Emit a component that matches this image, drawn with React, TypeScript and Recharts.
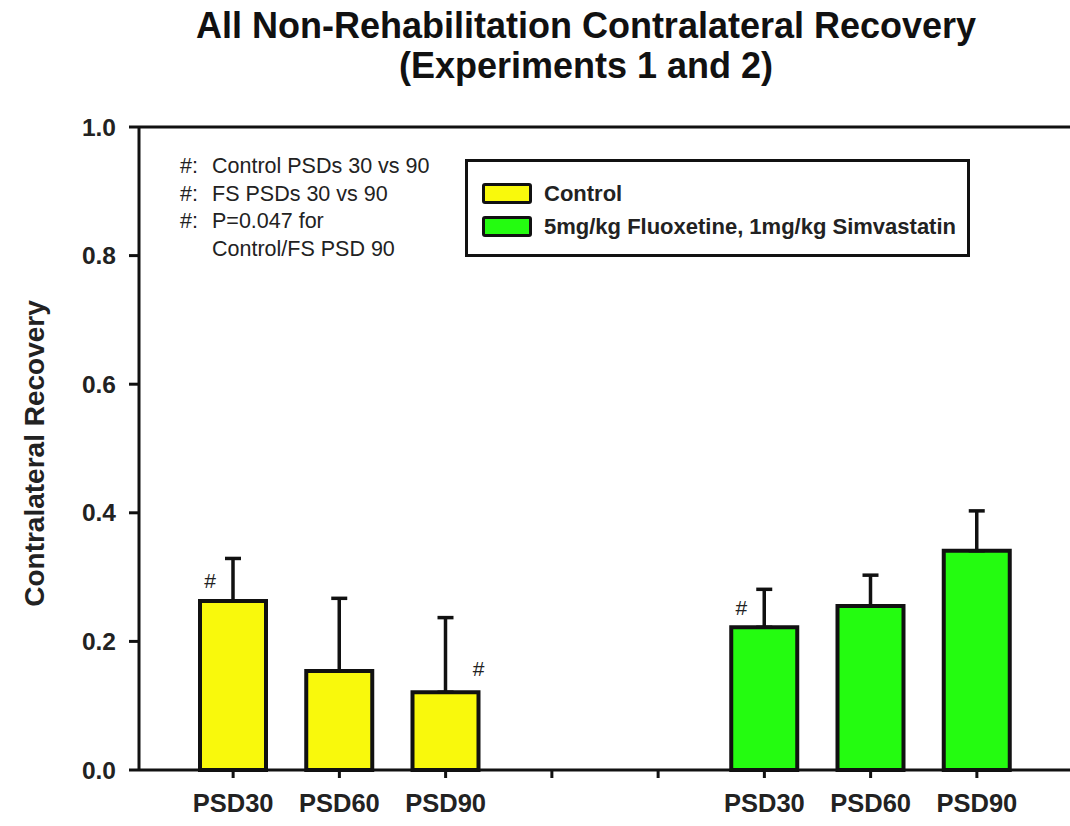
import React from "react";
import { BarChart, Bar, XAxis, YAxis, ErrorBar, Cell, LabelList, Legend, ReferenceLine } from "recharts";

const slotLabels = ["PSD30", "PSD60", "PSD90", "", "", "PSD30", "PSD60", "PSD90"];
const slotGroup = ["control", "control", "control", null, null, "fs", "fs", "fs"];
const controlValues = [0.263, 0.154, 0.121];
const controlErrors = [0.066, 0.113, 0.116];
const fsValues = [0.222, 0.255, 0.341];
const fsErrors = [0.059, 0.048, 0.062];
const marks = ["L", null, "R", null, null, "L", null, null];
const yTicks = [0, 0.2, 0.4, 0.6, 0.8, 1.0];
const seriesNames = ["Control", "5mg/kg Fluoxetine, 1mg/kg Simvastatin"];
const seriesColors = ["#f9f90c", "#24fc10"];
const notes = [
  ["#:", "Control PSDs 30 vs 90"],
  ["#:", "FS PSDs 30 vs 90"],
  ["#:", "P=0.047 for"],
  ["", "Control/FS PSD 90"],
];

const FONT = "'Liberation Sans', Arial, Helvetica, sans-serif";

let ci = 0;
let fi = 0;
const data = slotLabels.map((label, i) => {
  const g = slotGroup[i];
  let value: number | null = null;
  let err: number[] | null = null;
  if (g === "control") {
    value = controlValues[ci];
    err = [0, controlErrors[ci]];
    ci++;
  } else if (g === "fs") {
    value = fsValues[fi];
    err = [0, fsErrors[fi]];
    fi++;
  }
  return { slot: i, label, group: g, value, err, mark: marks[i] };
});

const MarkLabel = (props: any) => {
  const { x, y, width, value } = props;
  if (!value) return null;
  const cx = value === "L" ? x + 10 : x + width;
  const cy = value === "L" ? y - 20 : y - 24;
  return (
    <text x={cx} y={cy} textAnchor="middle" dominantBaseline="central" fontSize={21} fontFamily={FONT} fill="#222">
      #
    </text>
  );
};

const LegendBox = () => (
  <div
    style={{
      width: 505,
      height: 98,
      border: "3px solid #111",
      background: "#fff",
      boxSizing: "border-box",
      paddingLeft: 14,
      paddingTop: 15,
      fontFamily: FONT,
      fontWeight: "bold",
      fontSize: 22,
      color: "#222",
    }}
  >
    {seriesNames.map((n, i) => (
      <div key={n} style={{ display: "flex", alignItems: "center", height: 33 }}>
        <div
          style={{
            width: 50,
            height: 21,
            background: seriesColors[i],
            border: "3px solid #111",
            borderRadius: 3,
            boxSizing: "border-box",
            marginRight: 12,
          }}
        />
        <span>{n}</span>
      </div>
    ))}
  </div>
);

const YLabel = (props: any) => {
  const { viewBox } = props;
  const cx = viewBox.x + 34;
  const cy = viewBox.y + viewBox.height / 2 + 5;
  return (
    <text
      x={cx}
      y={cy}
      transform={`rotate(-90, ${cx}, ${cy})`}
      textAnchor="middle"
      dominantBaseline="central"
      fontSize={28}
      fontWeight="bold"
      fontFamily={FONT}
      fill="#222"
    >
      Contralateral Recovery
    </text>
  );
};

export default function App() {
  return (
    <div style={{ position: "absolute", left: 0, top: 0, width: 1070, height: 826, background: "#fff", overflow: "hidden" }}>
      <div
        style={{
          position: "absolute",
          left: 86,
          top: 6,
          width: 1000,
          textAlign: "center",
          fontFamily: FONT,
          fontWeight: "bold",
          fontSize: 36,
          lineHeight: "40px",
          color: "#111",
          zIndex: 2,
        }}
      >
        <div>All Non-Rehabilitation Contralateral Recovery</div>
        <div>(Experiments 1 and 2)</div>
      </div>
      <div
        style={{
          position: "absolute",
          left: 180,
          top: 153,
          fontFamily: FONT,
          fontSize: 21.5,
          lineHeight: "27.7px",
          color: "#222",
          zIndex: 2,
        }}
      >
        {notes.map((r, i) => (
          <div key={i} style={{ display: "flex" }}>
            <span style={{ width: 32, display: "inline-block" }}>{r[0]}</span>
            <span>{r[1]}</span>
          </div>
        ))}
      </div>
      <BarChart
        width={1070}
        height={826}
        data={data}
        margin={{ top: 127, right: 0, bottom: 6, left: 0 }}
        barSize={66}
      >
        <ReferenceLine y={1} stroke="#111" strokeWidth={3} ifOverflow="visible" />
        <XAxis
          dataKey="slot"
          type="category"
          height={50}
          padding={{ left: 41, right: 40 }}
          tickFormatter={(v: any) => slotLabels[v]}
          stroke="#111"
          strokeWidth={3}
          tickSize={8}
          tickMargin={16}
          tick={{ fontSize: 25.5, fontWeight: "bold", fontFamily: FONT, fill: "#222" }}
          tickLine={{ stroke: "#111", strokeWidth: 3 }}
          interval={0}
        />
        <YAxis
          type="number"
          domain={[0, 1]}
          ticks={yTicks}
          width={139}
          tickFormatter={(v: number) => v.toFixed(1)}
          stroke="#111"
          strokeWidth={3}
          tickSize={10}
          tickMargin={13}
          tick={{ fontSize: 24.5, fontWeight: "bold", fontFamily: FONT, fill: "#222" }}
          tickLine={{ stroke: "#111", strokeWidth: 3 }}
          label={<YLabel />}
        />
        <Legend
          layout="vertical"
          align="center"
          verticalAlign="middle"
          content={() => <LegendBox />}
          wrapperStyle={{ left: 465, top: 159, width: 505, height: 98 }}
        />
        <Bar dataKey="value" stroke="#111" strokeWidth={4} isAnimationActive={false}>
          {data.map((d, i) => (
            <Cell key={i} fill={d.group === "fs" ? seriesColors[1] : seriesColors[0]} />
          ))}
          <ErrorBar dataKey="err" direction="y" width={8} stroke="#111" strokeWidth={3.5} />
          <LabelList dataKey="mark" content={<MarkLabel />} />
        </Bar>
      </BarChart>
    </div>
  );
}
